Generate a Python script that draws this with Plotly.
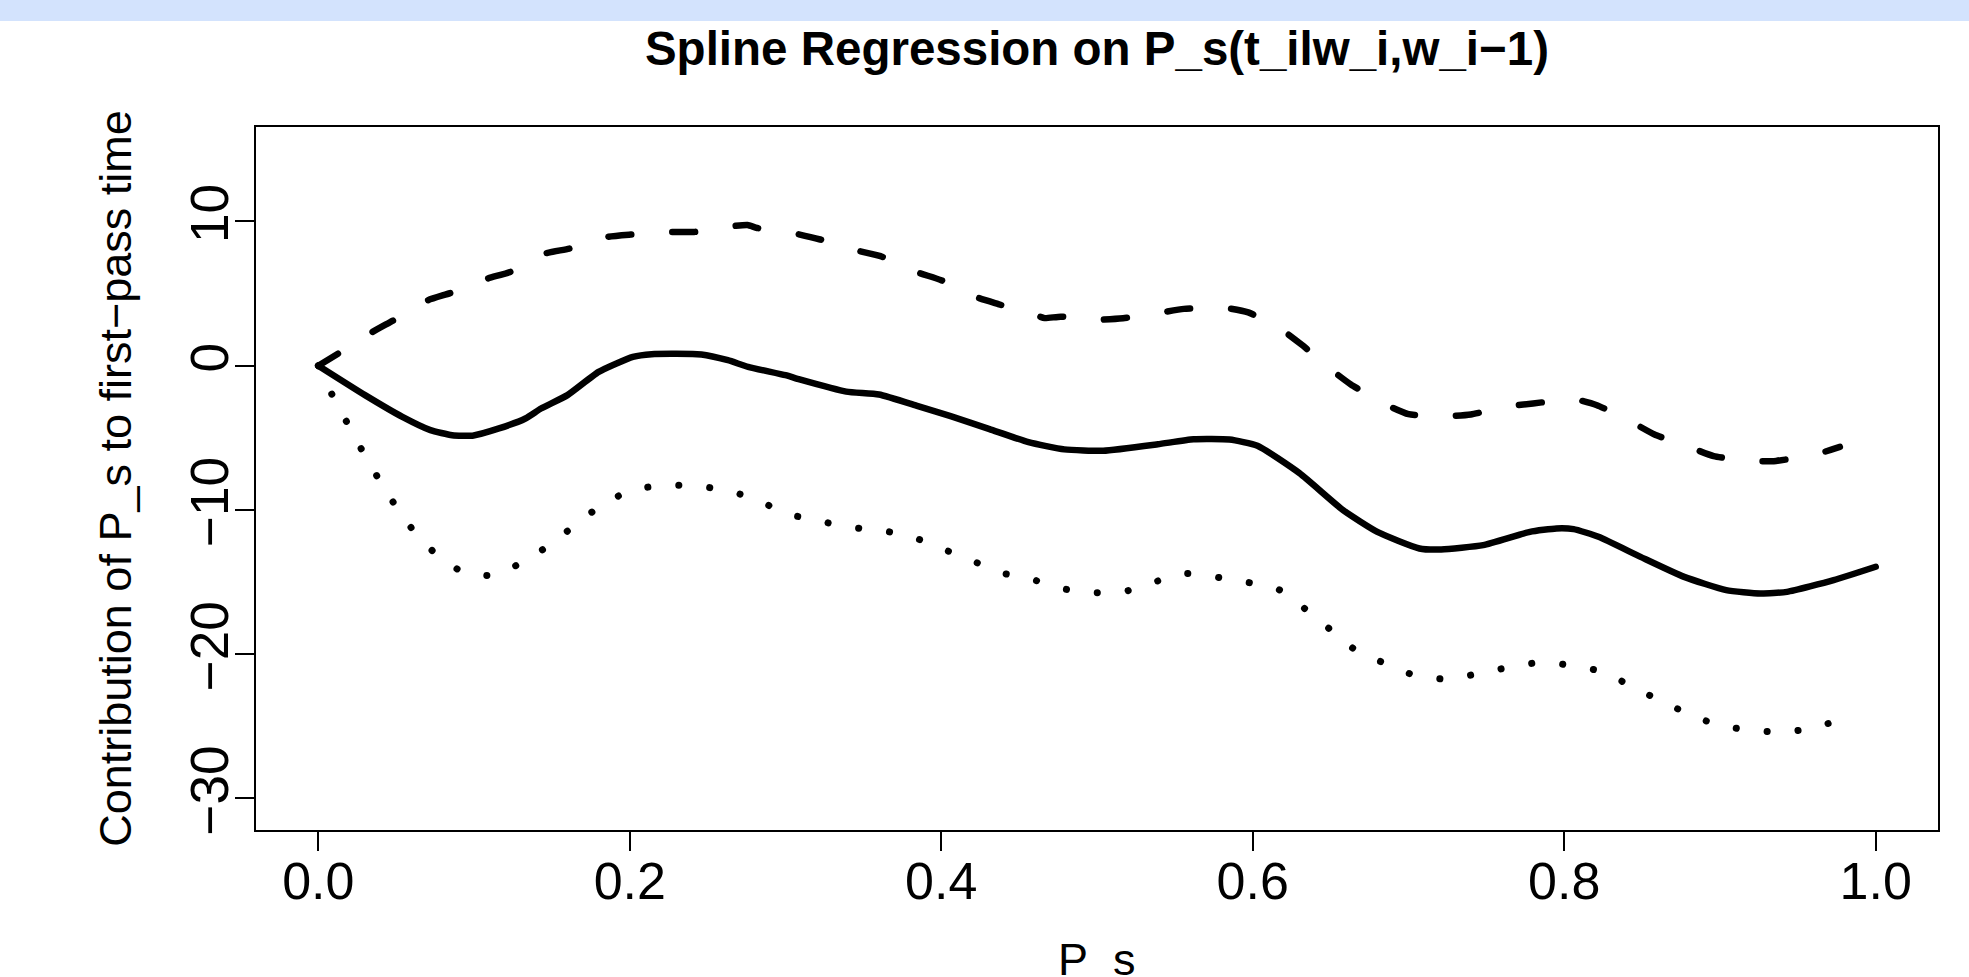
import plotly.graph_objects as go

# ---- data ----
fit_x = [0.000, 0.030, 0.054, 0.072, 0.086, 0.099, 0.116, 0.133, 0.143, 0.160, 0.180, 0.202,
         0.214, 0.246, 0.263, 0.276, 0.300, 0.309, 0.339, 0.360, 0.385, 0.406, 0.431, 0.456,
         0.479, 0.504, 0.539, 0.562, 0.585, 0.603, 0.630, 0.658, 0.680, 0.707, 0.721, 0.748,
         0.778, 0.795, 0.806, 0.822, 0.849, 0.877, 0.904, 0.926, 0.943, 0.973, 1.000]
fit_y = [0.00, -2.04, -3.55, -4.47, -4.82, -4.85, -4.35, -3.66, -2.97, -2.04, -0.43, 0.61,
         0.80, 0.78, 0.38, -0.08, -0.66, -0.95, -1.80, -2.00, -2.80, -3.50, -4.40, -5.30,
         -5.80, -5.90, -5.45, -5.10, -5.12, -5.55, -7.45, -10.01, -11.52, -12.67, -12.74, -12.44,
         -11.52, -11.28, -11.33, -11.86, -13.25, -14.64, -15.56, -15.79, -15.68, -14.87, -13.94]

upper_x = [0.000, 0.0127, 0.0348, 0.0483, 0.0704, 0.0851, 0.1085, 0.1232, 0.1454, 0.1614,
           0.1859, 0.2007, 0.2265, 0.2412, 0.267, 0.2756, 0.2818, 0.3063, 0.3223, 0.346,
           0.361, 0.384, 0.400, 0.4217, 0.4366, 0.4606, 0.4664, 0.4767, 0.4996, 0.5168,
           0.5409, 0.5558, 0.5822, 0.5971, 0.6189, 0.6315, 0.651, 0.663, 0.685, 0.700,
           0.725, 0.740, 0.7645, 0.780, 0.806, 0.821, 0.843, 0.858, 0.881, 0.896,
           0.921, 0.936, 0.962, 0.977]
upper_y = [0.00, 0.84, 2.34, 3.15, 4.54, 5.05, 6.04, 6.50, 7.77, 8.12,
           8.93, 9.09, 9.27, 9.27, 9.69, 9.76, 9.55, 9.16, 8.75, 7.98,
           7.60, 6.50, 5.93, 4.78, 4.27, 3.50, 3.30, 3.40, 3.19, 3.29,
           3.68, 3.94, 4.01, 3.70, 2.47, 1.45, -0.33, -1.30, -2.67, -3.36,
           -3.50, -3.38, -2.81, -2.62, -2.32, -2.74, -3.89, -4.77, -5.67, -6.27,
           -6.62, -6.60, -6.13, -5.63]

lower_x = [0.000, 0.009, 0.0188, 0.0286, 0.0392, 0.0503, 0.0625, 0.077, 0.0945, 0.1142,
           0.1323, 0.1498, 0.1657, 0.1822, 0.2007, 0.2206, 0.2407, 0.2611, 0.281, 0.2997,
           0.3198, 0.339, 0.360, 0.380, 0.399, 0.418, 0.4368, 0.4565, 0.4762, 0.4967,
           0.5168, 0.5365, 0.556, 0.5765, 0.5964, 0.6168, 0.6333, 0.6493, 0.6652, 0.684,
           0.703, 0.7234, 0.7435, 0.764, 0.7843, 0.8046, 0.8248, 0.8429, 0.8618, 0.8805,
           0.8999, 0.9202, 0.941, 0.9616, 0.981]
lower_y = [0.00, -2.04, -4.01, -5.97, -7.93, -9.83, -11.63, -13.20, -14.40, -14.52,
           -13.53, -12.35, -10.96, -9.65, -8.63, -8.30, -8.30, -8.63, -9.25, -10.24,
           -10.71, -11.17, -11.40, -11.81, -12.63, -13.42, -14.32, -14.75, -15.43, -15.73,
           -15.68, -15.01, -14.40, -14.66, -15.01, -15.52, -16.83, -18.25, -19.65, -20.60,
           -21.43, -21.73, -21.38, -20.92, -20.57, -20.78, -21.22, -22.21, -23.23, -24.17,
           -24.96, -25.26, -25.42, -25.07, -24.38]

x_ticks = [0.0, 0.2, 0.4, 0.6, 0.8, 1.0]
x_tick_labels = ["0.0", "0.2", "0.4", "0.6", "0.8", "1.0"]
y_ticks = [-30, -20, -10, 0, 10]
y_tick_labels = ["\u221230", "\u221220", "\u221210", "0", "10"]

title_text = "Spline Regression on P_s(t_ilw_i,w_i\u22121)"
x_title = "P_s"
y_title = "Contribution of P_s to first\u2212pass time"

FONT = "Liberation Sans, Arial, Helvetica, sans-serif"

fig = go.Figure()
fig.add_trace(go.Scatter(x=fit_x, y=fit_y, mode="lines",
                         line=dict(color="black", width=6.5, shape="spline", smoothing=0.5),
                         showlegend=False, hoverinfo="skip"))
fig.add_trace(go.Scatter(x=upper_x, y=upper_y, mode="lines",
                         line=dict(color="black", width=6.5, shape="spline", smoothing=0.5, dash="23px,41px"),
                         showlegend=False, hoverinfo="skip"))
fig.add_trace(go.Scatter(x=lower_x, y=lower_y, mode="lines",
                         line=dict(color="black", width=7, shape="spline", smoothing=0.5, dash="0.1px,31px"),
                         showlegend=False, hoverinfo="skip"))

fig.update_layout(
    template="none",
    width=1969, height=977,
    margin=dict(l=256, r=31, t=127, b=147, autoexpand=False),
    paper_bgcolor="white", plot_bgcolor="white",
    font=dict(family=FONT, color="black"),
    title=dict(text="<b>" + title_text + "</b>", x=0.5, xref="paper", xanchor="center",
               y=1 - 48 / 977, yref="container", yanchor="middle",
               font=dict(size=47.5, family=FONT, color="black")),
    showlegend=False,
)
fig.add_shape(type="rect", xref="paper", yref="paper", x0=-0.2, x1=1.1,
              y0=1 + 106 / 703, y1=1 + 140 / 703, fillcolor="#D3E3FD", line=dict(width=0), layer="above")

# x-axis title (placed as annotation so it can sit low like the reference)
fig.add_annotation(text=x_title, xref="paper", yref="paper", x=0.5, y=0, xanchor="center",
                   yanchor="middle", yshift=-129, showarrow=False,
                   font=dict(size=45, family=FONT, color="black"))

fig.update_xaxes(range=[-0.04, 1.04], tickvals=x_ticks, ticktext=x_tick_labels, automargin=False,
                 showgrid=False, zeroline=False, showline=True, linecolor="black", linewidth=2, mirror=True,
                 ticks="outside", ticklen=19, tickwidth=1.5, tickcolor="black",
                 tickfont=dict(size=52, family=FONT, color="black"), ticklabelstandoff=-14)
fig.update_yaxes(range=[-32.19, 16.55], tickvals=y_ticks, ticktext=y_tick_labels, tickangle=-90,
                 automargin=False,
                 showgrid=False, zeroline=False, showline=True, linecolor="black", linewidth=2, mirror=True,
                 ticks="outside", ticklen=19, tickwidth=1.5, tickcolor="black",
                 tickfont=dict(size=53, family=FONT, color="black"), ticklabelstandoff=-14,
                 title=dict(text=y_title, font=dict(size=45, family=FONT, color="black"), standoff=34))

post = ("var s=document.createElement('style');"
        "s.textContent='html,body{margin:0;padding:0;overflow:hidden}"
        ".scatterlayer .js-line{stroke-linecap:round;stroke-linejoin:round}';"
        "document.head.appendChild(s);")
fig.write_html("out.html", post_script=post, config={"displayModeBar": False})
